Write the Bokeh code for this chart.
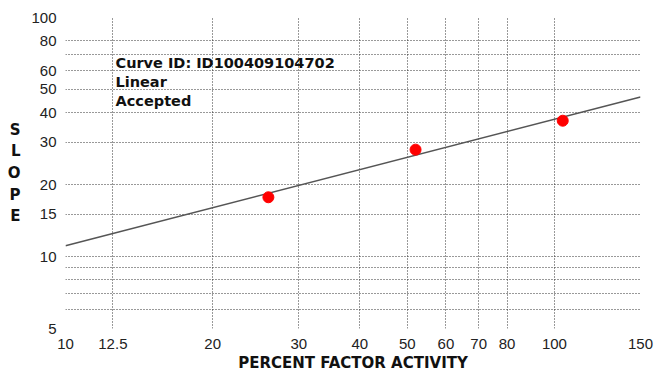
from bokeh.plotting import figure
from bokeh.models import FixedTicker, Label
from bokeh.embed import file_html
from bokeh.resources import INLINE

# data
pct_activity = [26, 52, 104]
slope = [17.7, 28, 37]
fit_x = [10, 150]
fit_y = [11.1, 46.5]

x_ticks = [10, 12.5, 20, 30, 40, 50, 60, 70, 80, 100, 150]
y_ticks = [5, 10, 15, 20, 30, 40, 50, 60, 80, 100]
y_minor = [6, 7, 8, 9, 70]

info_lines = ["Curve ID: ID100409104702", "Linear", "Accepted"]
y_title = "SLOPE"
x_title = "PERCENT FACTOR ACTIVITY"

W, H = 655, 374
p = figure(width=W, height=H, x_axis_type="log", y_axis_type="log",
           x_range=(10, 150), y_range=(5, 100),
           output_backend="svg", toolbar_location=None,
           min_border_left=65, min_border_right=15, min_border_top=17, min_border_bottom=44)
p.outline_line_color = None
p.background_fill_color = "white"

p.xaxis.ticker = FixedTicker(ticks=x_ticks)
p.yaxis.ticker = FixedTicker(ticks=y_ticks, minor_ticks=y_minor)

for ax in (p.xaxis[0], p.yaxis[0]):
    ax.axis_line_color = None
    ax.major_tick_line_color = None
    ax.minor_tick_line_color = None
    ax.major_label_text_font = "Liberation Sans"
    ax.major_label_text_font_size = "15px"
    ax.major_label_text_color = "#222222"
p.xaxis.major_label_standoff = 4
p.yaxis.major_label_standoff = 3
p.xaxis.axis_label = x_title
p.xaxis.axis_label_text_font = "DejaVu Sans"
p.xaxis.axis_label_text_font_style = "bold"
p.xaxis.axis_label_text_font_size = "15px"
p.xaxis.axis_label_text_color = "#111111"
p.xaxis.axis_label_standoff = 2

ya = p.yaxis[0]
ya.axis_label = "\n".join(y_title)
ya.axis_label_text_font = "DejaVu Sans"
ya.axis_label_text_font_style = "bold"
ya.axis_label_text_font_size = "15px"
ya.axis_label_text_color = "#111111"
ya.axis_label_text_line_height = 1.2
ya.axis_label_standoff = 8
if hasattr(ya, "axis_label_orientation"):
    ya.axis_label_orientation = "horizontal"

for g in (p.xgrid[0], p.ygrid[0]):
    g.grid_line_color = "#333333"
    g.grid_line_dash = "1 2"
    g.grid_line_width = 1
p.ygrid.minor_grid_line_color = "#333333"
p.ygrid.minor_grid_line_dash = "1 2"

p.line(fit_x, fit_y, line_color="#555555", line_width=1.5)
p.scatter(pct_activity, slope, size=11, color="#ff0000")

for i, t in enumerate(info_lines):
    p.add_layout(Label(x=50, y=274 - i * 19, x_units="screen", y_units="screen",
                       text=t, text_font="DejaVu Sans", text_font_style="bold",
                       text_font_size="14.5px", text_baseline="top", text_color="#111111"))

open("out.html", "w").write(file_html(p, INLINE))
